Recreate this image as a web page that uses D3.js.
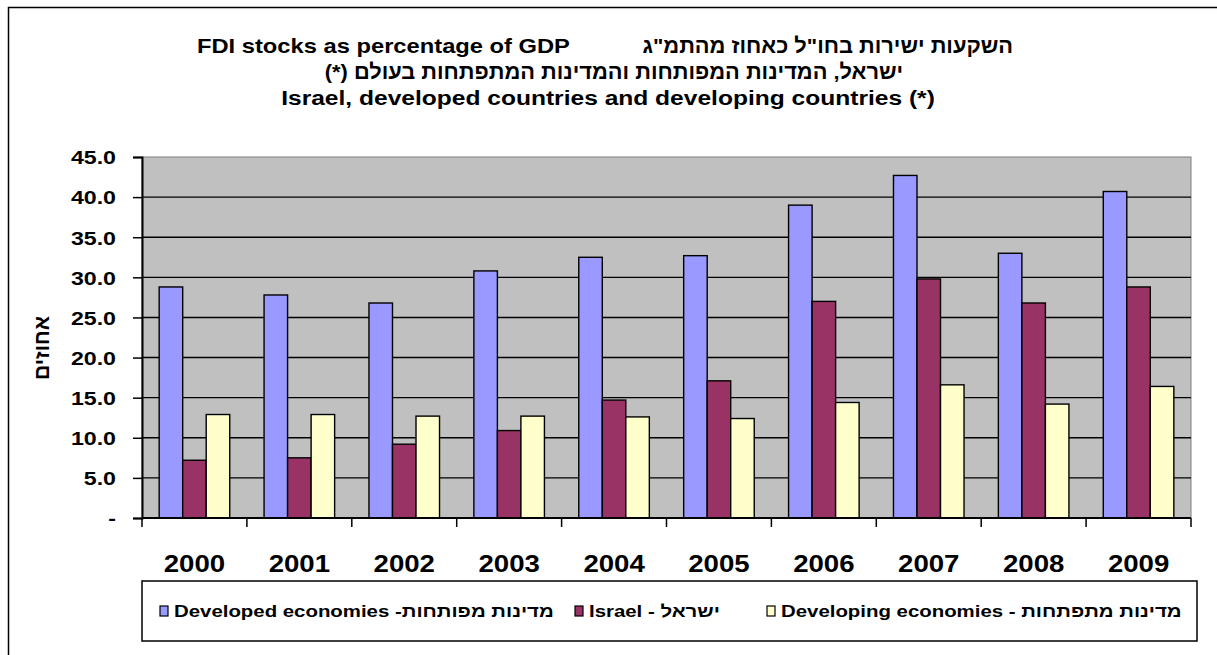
<!DOCTYPE html>
<html>
<head>
<meta charset="utf-8">
<script src="https://cdn.jsdelivr.net/npm/d3@7"></script>
<style>
  html, body { margin: 0; padding: 0; background: #fff; }
  svg { display: block; font-family: "Liberation Sans", Arial, sans-serif; }
</style>
</head>
<body>
<svg id="chart" width="1217" height="655"></svg>
<script>
const years = ["2000","2001","2002","2003","2004","2005","2006","2007","2008","2009"];
const seriesNames = ["Developed economies -מדינות מפותחות", "Israel - ישראל", "Developing economies - מדינות מתפתחות"];
const seriesColors = ["#9999FF", "#993366", "#FFFFCC"];
const developed = [28.8, 27.8, 26.8, 30.8, 32.5, 32.7, 39.0, 42.7, 33.0, 40.7];
const israel    = [7.2, 7.5, 9.2, 10.9, 14.7, 17.1, 27.0, 29.8, 26.8, 28.8];
const developing= [12.9, 12.9, 12.7, 12.7, 12.6, 12.4, 14.4, 16.6, 14.2, 16.4];
const yTicks = [0, 5, 10, 15, 20, 25, 30, 35, 40, 45];
const titleEn1 = "FDI stocks as percentage of GDP";
const titleHe1 = "השקעות ישירות בחו\"ל כאחוז מהתמ\"ג";
const titleHe2 = "ישראל, המדינות המפותחות והמדינות המתפתחות בעולם (*)";
const titleEn3 = "Israel, developed countries and developing countries (*)";
const yTitle = "אחוזים";

const allSeries = [developed, israel, developing];
const svg = d3.select("#chart");
const SX = 1.2; // horizontal stretch of text seen in the reference

function stretchedText(parent, x, yy, txt, size, anchor, sx, rtl) {
  const t = parent.append("text")
    .attr("transform", `translate(${x},${yy}) scale(${sx},1)`)
    .attr("text-anchor", anchor).attr("font-size", size).attr("font-weight", "bold")
    .attr("fill", "#000").style("white-space", "pre").text(txt);
  if (rtl) t.attr("direction", "rtl").style("direction", "rtl").style("unicode-bidi", "embed");
  return t;
}

// outer chart border
svg.append("rect").attr("x", 8.5).attr("y", 7.5).attr("width", 1400).attr("height", 800)
  .attr("fill", "none").attr("stroke", "#000").attr("stroke-width", 1.5);

const pL = 142, pR = 1191, pT = 157, pB = 518;

const x0 = d3.scaleBand().domain(years).range([pL, pR]).padding(0);
const x1 = d3.scaleBand().domain([0,1,2]).range([0, x0.bandwidth()]).paddingInner(0).paddingOuter(0.73);
const y = d3.scaleLinear().domain([0, 45]).range([pB, pT]);

// plot background
svg.append("rect").attr("x", pL).attr("y", pT).attr("width", pR-pL).attr("height", pB-pT)
  .attr("fill", "#C0C0C0").attr("stroke", "#808080").attr("stroke-width", 1);

// gridlines
svg.append("g").selectAll("line").data(yTicks.filter(d => d > 0 && d < 45)).join("line")
  .attr("x1", pL).attr("x2", pR).attr("y1", d => y(d)).attr("y2", d => y(d))
  .attr("stroke", "#000").attr("stroke-width", 1.4);

// bars
const g = svg.append("g");
years.forEach((yr, i) => {
  allSeries.forEach((s, k) => {
    g.append("rect")
      .attr("x", x0(yr) + x1(k))
      .attr("y", y(s[i]))
      .attr("width", x1.bandwidth())
      .attr("height", y(0) - y(s[i]))
      .attr("fill", seriesColors[k])
      .attr("stroke", "#000").attr("stroke-width", 1.4);
  });
});

// y axis
const yAxis = d3.axisLeft(y).tickValues(yTicks).tickSize(9).tickPadding(26)
  .tickFormat(d => d === 0 ? "-" : d3.format(".1f")(d));
const ya = svg.append("g").attr("transform", `translate(${pL},0)`).call(yAxis);
ya.select(".domain").attr("stroke", "#000").attr("stroke-width", 2);
ya.selectAll(".tick line").attr("stroke", "#000").attr("stroke-width", 1.5);
ya.selectAll(".tick text")
  .attr("x", 0).attr("dy", "0.36em")
  .attr("transform", `translate(-26,0) scale(1.22,1)`)
  .attr("font-size", 19).attr("font-weight", "bold").attr("fill", "#000")
  .attr("font-family", "Liberation Sans, Arial, sans-serif");

// x axis
const xTickScale = d3.scaleLinear().domain([0, years.length]).range([pL, pR]);
const xa = svg.append("g").attr("transform", `translate(0,${pB})`);
xa.append("line").attr("x1", pL).attr("x2", pR).attr("y1", 0).attr("y2", 0)
  .attr("stroke", "#000").attr("stroke-width", 2);
xa.selectAll("line.tk").data(d3.range(years.length + 1)).join("line").attr("class", "tk")
  .attr("x1", d => xTickScale(d)).attr("x2", d => xTickScale(d)).attr("y1", 0).attr("y2", 9)
  .attr("stroke", "#000").attr("stroke-width", 1.5);
years.forEach(yr => stretchedText(xa, x0(yr) + x0.bandwidth()/2, 54, yr, 23, "middle", SX));

// y title
svg.append("text").attr("transform", "translate(49,348) rotate(-90)")
  .attr("text-anchor", "middle").attr("font-size", 21).attr("font-weight", "bold")
  .text(yTitle);

// titles
stretchedText(svg, 197, 53, titleEn1, 21, "start", 1.13);
stretchedText(svg, 1013, 53, titleHe1, 21, "end", 1.04);
stretchedText(svg, 614, 79, titleHe2, 21, "middle", 1.04, true);
stretchedText(svg, 608, 105, titleEn3, 21, "middle", 1.17);

// legend
svg.append("rect").attr("x", 142).attr("y", 581).attr("width", 1055).attr("height", 60)
  .attr("fill", "#fff").attr("stroke", "#000").attr("stroke-width", 1.5);
const legendX = [160, 575, 767];
seriesNames.forEach((name, k) => {
  svg.append("rect").attr("x", legendX[k]).attr("y", 606).attr("width", 8).attr("height", 10)
    .attr("fill", seriesColors[k]).attr("stroke", "#000").attr("stroke-width", 1.2);
  stretchedText(svg, legendX[k] + 14, 617, name, 17, "start", 1.2);
});
</script>
</body>
</html>
